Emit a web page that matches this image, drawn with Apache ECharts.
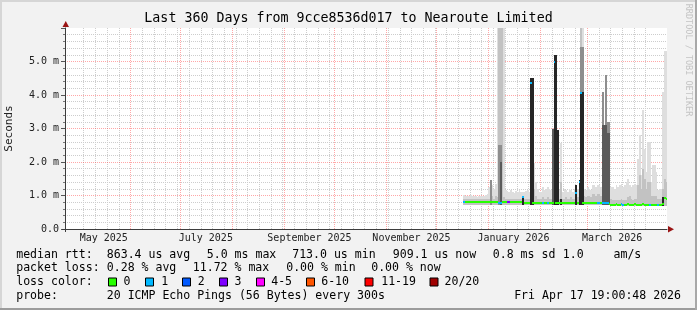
<!DOCTYPE html>
<html><head><meta charset="utf-8">
<script src="https://cdn.jsdelivr.net/npm/echarts@6/dist/echarts.min.js"></script>
<style>html,body{margin:0;padding:0;background:#f2f2f2}#c{width:697px;height:310px}</style>
</head><body><div id="c"></div>
<script>
// ---------------- DATA ----------------
const titleText = 'Last 360 Days from 9cce8536d017 to Nearoute Limited';
const yAxisName = 'Seconds';
const firstDay = [2025, 11, 17];          // first day with data (Dec 17 2025, month 0-based)
const rangeEnd = [2026, 3, 17, 19, 0];    // Apr 17 2026 19:00
const rangeDays = 360;
const yTickValues = [0, 1, 2, 3, 4, 5];
const yMax = 6;
const xTickLabels = ['May 2025', 'July 2025', 'September 2025', 'November 2025', 'January 2026', 'March 2026'];

// daily median rtt (ms)
const median = [
  0.82,0.82,0.82,0.82,0.81,0.82,0.82,0.81,0.81,0.82,
  0.81,0.81,0.80,0.81,0.80,0.80,0.80,0.80,0.80,0.80,
  0.80,0.79,0.79,0.80,0.80,0.80,0.80,0.80,0.80,0.80,
  0.80,0.80,0.80,0.80,0.80,0.95,0.77,0.77,0.78,0.78,
  4.35,0.79,0.79,0.79,0.79,0.79,0.79,0.79,0.79,0.79,
  0.79,0.79,0.79,0.79,5.00,0.79,0.79,0.79,0.79,0.79,
  0.79,0.79,0.79,0.79,0.79,0.79,0.79,1.07,0.79,1.40,
  4.05,0.79,0.79,0.79,0.79,0.79,0.79,0.79,0.79,0.79,
  0.79,0.78,0.79,0.78,0.78,0.78,0.78,0.76,0.73,0.73,
  0.73,0.74,0.73,0.73,0.74,0.73,0.73,0.73,0.74,0.73,
  0.73,0.73,0.74,0.73,0.73,0.73,0.73,0.74,0.73,0.73,
  0.73,0.73,0.72,0.72,0.72,0.72,0.72,0.72,0.72,0.76,
  0.93,0.91
];
// daily lost pings (of 20)
const lostPings = [
  1,0,0,0,0,0,0,0,0,0,
  0,0,0,0,0,0,0,0,0,0,
  0,1,1,0,0,0,3,3,0,0,
  0,0,0,0,0,1,0,0,0,0,
  1,0,0,0,0,0,0,1,0,0,
  1,0,0,0,1,0,0,0,0,0,
  0,0,0,0,0,0,0,1,0,1,
  1,0,0,0,0,0,0,0,0,0,
  1,1,0,1,1,1,1,0,0,0,
  0,0,0,0,1,1,0,0,0,0,
  0,0,0,0,0,0,0,0,0,0,
  0,1,0,0,0,0,1,0,0,0,
  0,0
];
// smoke: bottom of smoke and the tops of the shaded bands (0 = band absent)
const smokeLow = [
  0.72,0.72,0.72,0.72,0.72,0.72,0.72,0.72,0.72,0.72,
  0.72,0.72,0.72,0.72,0.72,0.72,0.72,0.72,0.72,0.72,
  0.72,0.72,0.72,0.72,0.72,0.72,0.72,0.72,0.72,0.72,
  0.72,0.72,0.72,0.72,0.72,0.72,0.72,0.72,0.72,0.72,
  0.72,0.72,0.72,0.72,0.72,0.72,0.72,0.72,0.72,0.72,
  0.72,0.72,0.72,0.72,0.72,0.72,0.72,0.72,0.72,0.72,
  0.72,0.72,0.72,0.72,0.72,0.72,0.72,0.72,0.72,0.72,
  0.72,0.72,0.72,0.72,0.72,0.72,0.72,0.72,0.72,0.72,
  0.72,0.72,0.72,0.72,0.72,0.72,0.72,0.72,0.68,0.68,
  0.68,0.68,0.68,0.68,0.68,0.68,0.68,0.68,0.68,0.68,
  0.68,0.68,0.68,0.68,0.68,0.68,0.68,0.68,0.68,0.68,
  0.68,0.68,0.68,0.68,0.68,0.68,0.68,0.68,0.68,0.68,
  0.68,0.68
];
const smokeBlack = [
  0,0,0,0,0,0,0,0,0,0,
  0,0,0,0,0,0,0,0,0,0,
  0,0,0,0,0,0,0,0,0,0,
  0,0,0,0,0,1.00,0,0,0,0,
  4.50,4.50,0,0,0,0,0,0,0,0,
  0,0,0,0,5.20,5.20,2.95,0,0.90,0,
  0,0,0,0,0,0,0,1.30,0,1.45,
  4.10,4.10,0,0,0,0,0,0,0,0,
  0,0,0,0,0,0,0,0,0,0,
  0,0,0,0,0,0,0,0,0,0,
  0,0,0,0,0,0,0,0,0,0,
  0,0,0,0,0,0,0,0,0,0.95,
  0,0
];
const smokeDark = [
  0,0,0,0,0,0,0,0,0,0,
  0,0,0,0,0,0,0,0,0,0,
  0,0,2.00,0,0,0,0,0,0,0,
  0,0,0,0,0,0,0,0,0,0,
  0,0,0,0,0,0,0,0,0,0,
  0,0,0,3.00,0,0,0,0,0,0,
  0,0,0,0,0,0,0,0,0,0,
  0,0,0,0,0,0,0,0,0,0,
  0,0,0,3.10,3.10,3.10,2.87,2.87,0,0,
  0,0,0,0,0,0,0,0,0,0,
  0,0,0,0,0,0,0,0,0,0,
  0,0,0,0,0,0,0,0,0,0,
  0,0
];
const smokeMid = [
  0,0,0,0,0,0,0,0,0,0,
  0,0,0,0,0,0,1.46,0,0,0,
  0,2.50,2.50,0,0,0,0,0,0,0,
  0,0,0,0,0,0,0,0,0,0,
  0,0,0,0,0,0,0,0,0,0,
  0,0,0,0,0,0,0,0,0,0,
  0,0,0,0,0,0,0,0,0,0,
  5.44,5.44,0,0,0,0,0,0,0,0,
  0,0,0,4.10,0,4.60,3.20,3.20,0,0,
  0,0,0,0,0,0,0,0,0,0,
  0,0,0,0,0,0,0,0,0,0,
  0,0,0,0,0,0,0,0,0,0,
  0,0
];
const smokeLight = [
  0.90,0.90,0.90,0.90,0.90,0.90,0.90,0.90,0.90,0.90,
  0.90,0.90,0.90,0.90,0.90,0.90,1.10,1.00,0.90,1.00,
  0.95,6.00,6.00,6.00,0.95,0.90,0.90,0.90,0.90,0.90,
  0.90,0.90,0.90,0.90,0.90,0.90,0.90,0.90,0.90,0.90,
  0.90,0.90,1.20,1.00,0.90,0.90,0.90,0.95,0.90,0.90,
  0.95,0.90,0.90,0.90,0.90,0.90,0.90,0.90,1.40,0.90,
  0.90,0.95,0.90,0.90,0.95,0.90,0.90,0.95,0.95,0.95,
  6.00,5.44,1.00,0.95,1.00,1.00,0.95,1.05,1.05,1.00,
  1.05,1.05,1.00,1.30,1.30,1.30,1.30,1.30,0.90,0.88,
  0.88,0.86,0.88,0.88,0.90,0.88,0.86,0.88,0.95,1.00,
  0.90,0.88,0.90,0.90,1.30,1.60,1.20,1.80,1.50,1.20,
  1.40,1.40,1.00,1.00,1.00,1.00,0.90,0.90,0.90,1.20,
  1.50,1.40
];
const smokeFaint = [
  1.02,1.00,0.98,1.00,1.01,0.99,1.00,0.98,0.97,1.00,
  0.99,1.00,0.98,1.02,1.05,1.25,1.46,1.30,1.20,1.35,
  6.00,6.00,6.00,6.00,6.00,1.15,1.12,1.10,1.15,1.10,
  1.08,1.12,1.10,1.15,1.10,1.10,1.10,1.12,1.15,1.10,
  1.20,1.20,1.97,1.40,1.20,1.10,1.10,1.25,1.15,1.20,
  1.25,1.20,1.15,1.20,1.20,1.20,1.20,1.15,2.57,1.10,
  1.20,1.15,1.10,1.20,1.15,1.10,1.20,1.20,1.20,1.20,
  6.00,6.00,1.20,1.15,1.25,1.20,1.15,1.30,1.30,1.25,
  1.30,1.30,1.25,1.30,1.30,1.30,1.30,1.30,1.25,1.25,
  1.20,1.30,1.25,1.30,1.35,1.25,1.30,1.40,1.50,1.30,
  1.25,1.30,1.35,1.30,2.10,2.80,1.60,3.55,2.40,1.70,
  2.60,2.60,1.40,1.90,1.90,1.70,1.15,1.20,1.20,4.10,
  5.30,5.30
];

// legend texts
const legendRtt = ['median rtt:', '863.4 us avg', '5.0 ms max', '713.0 us min', '909.1 us now', '0.8 ms sd', '1.0', 'am/s'];
const legendLoss = ['packet loss:', '0.28 % avg', '11.72 % max', '0.00 % min', '0.00 % now'];
const lossLegendTitle = 'loss color:';
const lossLegendLabels = ['0', '1', '2', '3', '4-5', '6-10', '11-19', '20/20'];
const lossThresholds = [0, 1, 2, 3, 5, 10, 19, 20];   // upper bound of lost pings for each colour
const probeTexts = ['probe:', '20 ICMP Echo Pings (56 Bytes) every 300s'];
const stampText = 'Fri Apr 17 19:00:48 2026';
const watermark = 'RRDTOOL / TOBI OETIKER';

// ---------------- STYLE / LAYOUT ----------------
const lossColors = ['#26ff00', '#00b8ff', '#0059ff', '#7e00ff', '#ff00ff', '#ff5500', '#ff0000', '#a00000'];
const smokeShades = ['#262626', '#5a5a5a', '#8e8e8e', '#c2c2c2', '#dedede'];
const MONO = '"DejaVu Sans Mono", monospace';
const G = { left: 65, top: 28, width: 602, height: 201 };
const legendRowY = [254.7, 268.3, 282.3, 296.3];
const rttX = [16.2, 106.8, 206.8, 292.2, 392.8, 492.8, 562.8, 613.5];
const lossX = [16.2, 106.8, 192.8, 286.2, 371.2];
const boxX = [108.5, 145.5, 182.5, 219.5, 256.5, 306.5, 365, 430];
const boxLabelX = [123.5, 161.2, 197.8, 234.5, 271.2, 321.2, 381.2, 444.5];
const probeX = [16.2, 106.8];

// ---------------- BUILD ----------------
const DAY = 86400000;
const endTs = Date.UTC(...rangeEnd);
const startTs = endTs - rangeDays * DAY;
const day0 = Date.UTC(...firstDay);
const monthNames = ['January','February','March','April','May','June','July','August','September','October','November','December'];

function lossIndex(n) { for (let k = 0; k < lossThresholds.length; k++) if (n <= lossThresholds[k]) return k; return lossThresholds.length - 1; }

const smokeData = median.map((m, i) => [day0 + i * DAY, smokeLow[i], smokeBlack[i], smokeDark[i], smokeMid[i], smokeLight[i], smokeFaint[i]]);
const medianData = median.map((m, i) => [day0 + i * DAY, m, lossIndex(lostPings[i])]);

// month ticks (major grid) and week ticks (minor grid, Sundays)
const monthTicks = [];
{ const d = new Date(startTs); let y = d.getUTCFullYear(), mo = d.getUTCMonth() + 1;
  for (;;) { if (mo > 11) { mo = 0; y++; } const t = Date.UTC(y, mo, 1); if (t > endTs) break; monthTicks.push(t); mo++; } }
const weekTicks = [];
{ const d = new Date(startTs); const dow = d.getUTCDay();
  let t = Date.UTC(d.getUTCFullYear(), d.getUTCMonth(), d.getUTCDate() + (7 - dow) % 7);
  if (t < startTs) t += 7 * DAY;
  for (; t <= endTs; t += 7 * DAY) if (monthTicks.indexOf(t) < 0) weekTicks.push(t); }
const labelMap = {};
const labelTicks = xTickLabels.map(s => { const [mn, yr] = s.split(' '); const t = Date.UTC(+yr, monthNames.indexOf(mn), 16); labelMap[t] = s; return t; });

function smokeItem(params, api) {
  const t = api.value(0);
  let base = api.value(1);
  const children = [];
  for (let k = 0; k < 5; k++) {
    const top = api.value(2 + k);
    if (top > base) {
      const p0 = api.coord([t, base]), p1 = api.coord([t + DAY, top]);
      const x0 = Math.round(p0[0]), x1 = Math.round(p1[0]);
      const y0 = Math.round(p0[1]), y1 = Math.round(p1[1]);
      children.push({ type: 'rect', shape: { x: x0, y: y1, width: x1 - x0, height: y0 - y1 }, style: { fill: smokeShades[k] } });
      base = top;
    }
  }
  return { type: 'group', children };
}
function medianItem(params, api) {
  const t = api.value(0), v = api.value(1), li = api.value(2);
  const p0 = api.coord([t, v]), p1 = api.coord([t + DAY, v]);
  const x0 = Math.round(p0[0]), x1 = Math.round(p1[0]);
  return { type: 'rect', shape: { x: x0, y: Math.round(p0[1]) - 1, width: x1 - x0, height: 2 }, style: { fill: lossColors[li] } };
}

function txt(text, x, y, opt) {
  opt = opt || {};
  return { type: 'text', x, y, rotation: opt.rotation || 0, z: 100, silent: true,
    style: { text, fill: opt.color || '#000', font: (opt.size || 11.55) + 'px ' + MONO,
      align: opt.align || 'left', verticalAlign: 'middle' } };
}
const graphics = [];
// frame
graphics.push({ type: 'rect', z: 100, shape: { x: 0, y: 0, width: 697, height: 2 }, style: { fill: '#d6d6d6' } });
graphics.push({ type: 'rect', z: 100, shape: { x: 0, y: 0, width: 2, height: 310 }, style: { fill: '#d6d6d6' } });
graphics.push({ type: 'rect', z: 100, shape: { x: 0, y: 308, width: 697, height: 2 }, style: { fill: '#9c9c9c' } });
graphics.push({ type: 'rect', z: 100, shape: { x: 695, y: 0, width: 2, height: 310 }, style: { fill: '#a8a8a8' } });
graphics.push(txt(titleText, 348.5, 18.5, { size: 13.3, align: 'center' }));
graphics.push(txt(yAxisName, 9.5, G.top + G.height / 2, { size: 11, align: 'center', rotation: Math.PI / 2, color: '#222' }));
graphics.push(txt(watermark, 688, 60, { size: 8.5, align: 'center', rotation: -Math.PI / 2, color: '#c4c4c4' }));
legendRtt.forEach((s, k) => graphics.push(txt(s, rttX[k], legendRowY[0])));
legendLoss.forEach((s, k) => graphics.push(txt(s, lossX[k], legendRowY[1])));
graphics.push(txt(lossLegendTitle, 16.2, legendRowY[2]));
lossLegendLabels.forEach((s, k) => {
  graphics.push({ type: 'rect', z: 100, shape: { x: boxX[k], y: legendRowY[2] - 4.3, width: 8, height: 8 }, style: { fill: lossColors[k], stroke: '#000', lineWidth: 1 } });
  graphics.push(txt(s, boxLabelX[k], legendRowY[2]));
});
probeTexts.forEach((s, k) => graphics.push(txt(s, probeX[k], legendRowY[3])));
graphics.push(txt(stampText, 681, legendRowY[3], { align: 'right' }));
// axis arrows and the little axis overhangs
const ax = G.left + 0.5, ay = G.top + G.height + 0.5, axr = G.left + G.width;
graphics.push({ type: 'line', z: 100, shape: { x1: G.left - 3, y1: ay, x2: G.left, y2: ay }, style: { stroke: '#3c3c3c', lineWidth: 1 } });
graphics.push({ type: 'line', z: 100, shape: { x1: ax, y1: ay, x2: ax, y2: ay + 2.5 }, style: { stroke: '#3c3c3c', lineWidth: 1 } });
graphics.push({ type: 'polygon', z: 100, shape: { points: [[ax - 3, G.top - 1], [ax + 3.5, G.top - 1], [ax + 0.25, G.top - 7]] }, style: { fill: '#9a1414' } });
graphics.push({ type: 'polygon', z: 100, shape: { points: [[axr + 1, ay - 3.5], [axr + 1, ay + 3], [axr + 7, ay - 0.25]] }, style: { fill: '#9a1414' } });

const axisLineStyle = { color: '#3c3c3c', width: 1 };
const redGrid = { color: 'rgba(255,60,60,0.45)', type: [1, 1], width: 1 };
const grayGrid = { color: '#cdcdcd', type: [1, 1], width: 1 };
const option = {
  backgroundColor: '#f2f2f2',
  animation: false,
  grid: { left: G.left, top: G.top, width: G.width, height: G.height, show: true, backgroundColor: '#ffffff', borderWidth: 0, containLabel: false, outerBoundsMode: 'none' },
  xAxis: [
    // labels axis (bottom)
    { type: 'value', min: startTs, max: endTs, position: 'bottom', z: 2, scale: true,
      axisLine: { show: true, onZero: false, lineStyle: axisLineStyle },
      axisTick: { show: false, customValues: labelTicks },
      splitLine: { show: false },
      axisLabel: { show: true, customValues: labelTicks, margin: 4, color: '#222', fontFamily: MONO, fontSize: 10,
        formatter: v => labelMap[v] || '' } },
    // month grid (red)
    { type: 'value', min: startTs, max: endTs, position: 'top', z: 1, scale: true,
      axisLine: { show: false }, axisLabel: { show: false, customValues: monthTicks },
      axisTick: { show: false, customValues: monthTicks },
      splitLine: { show: true, showMinLine: false, showMaxLine: false, lineStyle: redGrid } },
    // week grid (gray)
    { type: 'value', min: startTs, max: endTs, position: 'top', z: 0, scale: true,
      axisLine: { show: false }, axisLabel: { show: false, customValues: weekTicks },
      axisTick: { show: false, customValues: weekTicks },
      splitLine: { show: true, showMinLine: false, showMaxLine: false, lineStyle: grayGrid } }
  ],
  yAxis: { type: 'value', min: 0, max: yMax, interval: 1, z: 1,
    axisLine: { show: true, lineStyle: axisLineStyle },
    axisTick: { show: true, length: 4, lineStyle: { color: '#555' } },
    minorTick: { show: true, splitNumber: 5, length: 2, lineStyle: { color: '#777' } },
    splitLine: { show: true, showMaxLine: false, showMinLine: false, lineStyle: redGrid },
    minorSplitLine: { show: true, lineStyle: grayGrid },
    axisLabel: { margin: 6, color: '#222', fontFamily: MONO, fontSize: 10,
      formatter: v => (yTickValues.indexOf(v) < 0 ? '' : (v === 0 ? '0.0' : v.toFixed(1) + ' m')) } },
  series: [
    { type: 'custom', name: 'smoke', xAxisIndex: 0, clip: true, renderItem: smokeItem,
      encode: { x: 0, y: [1, 2, 3, 4, 5, 6] }, data: smokeData, z: 3, silent: true },
    { type: 'custom', name: 'median', xAxisIndex: 0, clip: true, renderItem: medianItem,
      encode: { x: 0, y: 1 }, data: medianData, z: 4, silent: true }
  ],
  graphic: { elements: graphics }
};
const chart = echarts.init(document.getElementById('c'), null, { renderer: 'canvas' });
chart.setOption(option);
</script></body></html>
